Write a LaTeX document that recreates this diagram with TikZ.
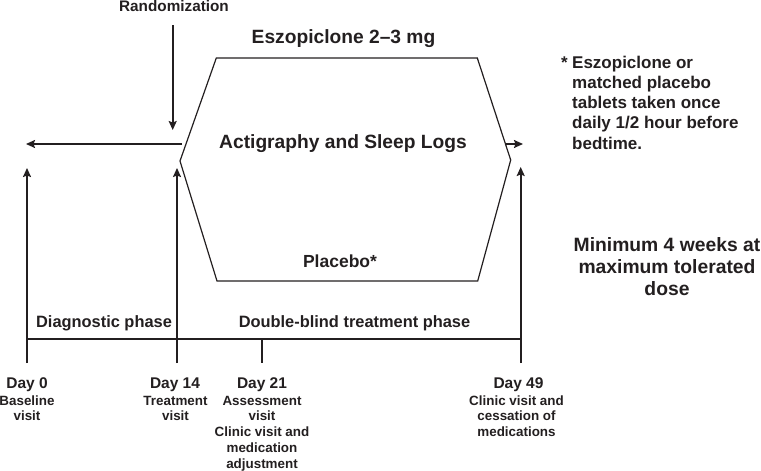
\documentclass[tikz,border=0pt]{standalone}
\usepackage{fontspec}
\setmainfont{Liberation Sans}
\usetikzlibrary{arrows.meta}
\definecolor{ink}{RGB}{35,31,32}
\begin{document}
\begin{tikzpicture}[x=1pt,y=-1pt,
  ink/.style={draw=ink,line width=1.7pt},
  hexline/.style={draw=ink,line width=1.2pt,line join=miter},
  arr/.style={ink,-{Stealth[length=9pt,width=8pt,inset=1.5pt]}},
  lbl/.style={inner sep=0pt,text=ink,font=\bfseries\fontsize{#1}{#1}\selectfont,anchor=base},
  blk/.style 2 args={inner sep=0pt,text=ink,align=center,anchor=base,font=\bfseries\fontsize{#1}{#2}\selectfont}]
\useasboundingbox (0,0) rectangle (761,471);
% hexagon
\coordinate (hl) at (180,161);
\coordinate (htl) at (216.3,58);
\coordinate (htr) at (477.3,58);
\coordinate (hr) at (510.7,160);
\coordinate (hbr) at (477.7,281);
\coordinate (hbl) at (217,281);
\draw[hexline] (hl) -- (htl) -- (htr) -- (hr) -- (hbr) -- (hbl) -- cycle;
% texts (multi-line nodes: base anchor = last line baseline)
\node[lbl=15.3] (rand) at (174,12) {Randomization};
\node[lbl=19.2] (esz) at (343.5,43) {Eszopiclone 2--3 mg};
\node[lbl=19.2] (act) at (343,148) {Actigraphy and Sleep Logs};
\node[lbl=17.5] (plac) at (340,267) {Placebo*};
\node[blk={17}{20.3},align=left,anchor=base west] (foot) at (572,149.2) {\llap{*\hspace{4.5pt}}Eszopiclone or\\matched placebo\\tablets taken once\\daily 1/2 hour before\\bedtime.};
\node[blk={19.3}{22}] (minw) at (667,295) {Minimum 4 weeks at\\maximum tolerated\\dose};
\node[lbl=16.4] (diag) at (104,327) {Diagnostic phase};
\node[lbl=16.4] (dbl) at (354.5,327) {Double-blind treatment phase};
\node[lbl=15.5] (d0) at (27,388) {Day 0};
\node[blk={13.4}{15.8}] (d0t) at (27,420.8) {Baseline\\visit};
\node[lbl=15.5] (d14) at (175,388) {Day 14};
\node[blk={13.4}{15.8}] (d14t) at (175.5,420.8) {Treatment\\visit};
\node[lbl=15.5] (d21) at (262,388) {Day 21};
\node[blk={13.4}{15.8}] (d21t) at (262,468.2) {Assessment\\visit\\Clinic visit and\\medication\\adjustment};
\node[lbl=15.5] (d49) at (518.5,388) {Day 49};
\node[blk={13.4}{15.8}] (d49t) at (516.5,436.6) {Clinic visit and\\cessation of\\medications};
% arrows
\coordinate (rs) at (172.7,25);
\coordinate (re) at (172.7,130);
\draw[arr] (rs) -- (re);
\coordinate (ls) at (182,144);
\coordinate (le) at (26,144);
\draw[arr] (ls) -- (le);
\coordinate (rts) at (505,144);
\coordinate (rte) at (523,144);
\draw[arr] (rts) -- (rte);
\coordinate (b0) at (27,363);
\coordinate (t0) at (27,168);
\coordinate (b14) at (177,363);
\coordinate (t14) at (177,168);
\coordinate (b49) at (520.7,363);
\coordinate (t49) at (520.7,167);
\draw[arr] (b0) -- (t0);
\draw[arr] (b14) -- (t14);
\draw[arr] (b49) -- (t49);
% baseline and tick
\coordinate (bl0) at (27,339);
\coordinate (bl49) at (520.7,339);
\draw[ink] (bl0) -- (bl49);
\coordinate (k21a) at (262,339);
\coordinate (k21b) at (262,363);
\draw[ink] (k21a) -- (k21b);
\end{tikzpicture}
\end{document}
